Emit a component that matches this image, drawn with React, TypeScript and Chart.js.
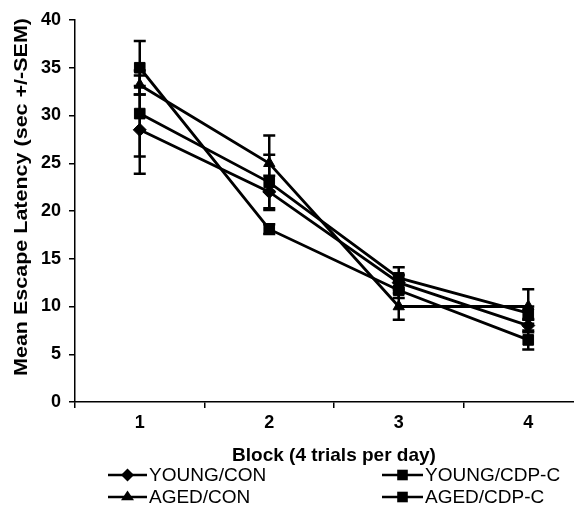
import React, { useEffect, useRef } from 'react';
import { Chart, registerables } from 'chart.js';

Chart.register(...registerables);

const categories = ['1', '2', '3', '4'];
const seriesNames = ['YOUNG/CON', 'YOUNG/CDP-C', 'AGED/CON', 'AGED/CDP-C'];
const youngCon = [28.5, 22.0, 12.5, 8.0];
const youngCdp = [30.2, 23.0, 13.0, 9.3];
const agedCon = [33.2, 25.0, 10.0, 10.0];
const agedCdp = [35.0, 18.1, 11.7, 6.5];
const youngConSem = [4.6, 1.7, 0.8, 0.7];
const youngCdpSem = [4.5, 2.9, 1.1, 0.7];
const agedConSem = [1.0, 2.9, 1.4, 1.8];
const agedCdpSem = [2.8, 0.5, 0.8, 1.0];
const pointStyles = ['rectRot', 'rect', 'triangle', 'rect'];
const yMin = 0;
const yMax = 40;
const yStep = 5;
const xTitle = 'Block (4 trials per day)';
const yTitle = 'Mean Escape Latency (sec +/-SEM)';

const FONT = "'Liberation Sans', Arial, sans-serif";

function drawMarker(ctx: CanvasRenderingContext2D, style: string, x: number, y: number, r: number) {
  ctx.beginPath();
  if (style === 'rect') {
    const s = r * Math.SQRT1_2;
    ctx.rect(x - s, y - s, 2 * s, 2 * s);
  } else if (style === 'rectRot') {
    ctx.moveTo(x, y - r);
    ctx.lineTo(x + r, y);
    ctx.lineTo(x, y + r);
    ctx.lineTo(x - r, y);
    ctx.closePath();
  } else {
    const h = r * 1.5;
    ctx.moveTo(x, y - r);
    ctx.lineTo(x + r, y + h - r);
    ctx.lineTo(x - r, y + h - r);
    ctx.closePath();
  }
  ctx.fill();
}

const errorBarPlugin = {
  id: 'errorBars',
  afterDatasetsDraw(chart: any) {
    const { ctx } = chart;
    const x = chart.scales.x;
    const y = chart.scales.y;
    ctx.save();
    ctx.strokeStyle = '#000';
    ctx.lineWidth = 2.5;
    chart.data.datasets.forEach((ds: any) => {
      ds.data.forEach((v: number, i: number) => {
        const e = ds.sem[i];
        const px = x.getPixelForValue(i);
        const top = y.getPixelForValue(v + e);
        const bot = y.getPixelForValue(v - e);
        ctx.beginPath();
        ctx.moveTo(px, top);
        ctx.lineTo(px, bot);
        ctx.moveTo(px - 6, top);
        ctx.lineTo(px + 6, top);
        ctx.moveTo(px - 6, bot);
        ctx.lineTo(px + 6, bot);
        ctx.stroke();
      });
    });
    ctx.restore();
  },
};

const customTextPlugin = {
  id: 'customText',
  afterDraw(chart: any) {
    const { ctx } = chart;
    ctx.save();
    ctx.fillStyle = '#000';
    ctx.font = `bold 19px ${FONT}`;
    ctx.textAlign = 'center';
    ctx.textBaseline = 'middle';
    const w = ctx.measureText(yTitle).width;
    const target = 358;
    ctx.translate(14, 189);
    ctx.rotate(-Math.PI / 2);
    ctx.scale(target / w, 1);
    ctx.fillText(yTitle, 0, 0);
    ctx.restore();

    ctx.save();
    ctx.fillStyle = '#000';
    ctx.strokeStyle = '#000';
    ctx.lineWidth = 2.5;
    ctx.font = `19px ${FONT}`;
    ctx.textBaseline = 'middle';
    ctx.textAlign = 'left';
    const cols = [
      { x1: 100, x2: 139, t: 141 },
      { x1: 374, x2: 415, t: 417 },
    ];
    const rows = [467, 489];
    chart.data.datasets.forEach((ds: any, i: number) => {
      const c = cols[i % 2];
      const r = rows[Math.floor(i / 2)];
      ctx.beginPath();
      ctx.moveTo(c.x1, r);
      ctx.lineTo(c.x2, r);
      ctx.stroke();
      drawMarker(ctx, ds.pointStyle, (c.x1 + c.x2) / 2, r, ds.pointStyle === 'rect' ? 7.5 : 6.5);
      ctx.fillText(ds.label, c.t, r + 1);
    });
    ctx.restore();
  },
};

export default function App() {
  const ref = useRef<HTMLCanvasElement>(null);
  useEffect(() => {
    if (!ref.current) return;
    const values = [youngCon, youngCdp, agedCon, agedCdp];
    const sems = [youngConSem, youngCdpSem, agedConSem, agedCdpSem];
    const chart = new Chart(ref.current, {
      type: 'line',
      data: {
        labels: categories,
        datasets: values.map((d, i) => ({
          label: seriesNames[i],
          data: d,
          sem: sems[i],
          borderColor: '#000',
          backgroundColor: '#000',
          borderWidth: 2.8,
          pointStyle: pointStyles[i],
          pointRadius: pointStyles[i] === 'rect' ? 7.5 : 6.5,
          pointBackgroundColor: '#000',
          pointBorderColor: '#000',
          pointBorderWidth: 1,
          tension: 0,
        })) as any,
      },
      options: {
        animation: false,
        responsive: false,
        layout: { padding: { left: 0, right: 15, top: 12, bottom: 0 } },
        plugins: { legend: { display: false }, tooltip: { enabled: false } },
        scales: {
          x: {
            type: 'category',
            offset: true,
            grid: { display: true, drawOnChartArea: false, drawTicks: true, tickLength: 6, color: '#000', offset: true, lineWidth: 1.5 },
            border: { display: true, color: '#000', width: 1.5 },
            ticks: { color: '#000', font: { family: FONT, size: 18, weight: 'bold' }, padding: 4 },
            title: { display: true, text: xTitle, color: '#000', font: { family: FONT, size: 19, weight: 'bold' }, padding: { top: 0, bottom: 46 } },
            afterFit: (s: any) => { s.height = 111; s.paddingLeft = 0; s.paddingRight = 0; },
          },
          y: {
            min: yMin,
            max: yMax,
            ticks: { stepSize: yStep, color: '#000', font: { family: FONT, size: 18, weight: 'bold' }, padding: 8 },
            grid: { display: true, drawOnChartArea: false, drawTicks: true, tickLength: 6, color: '#000', lineWidth: 1.5 },
            border: { display: true, color: '#000', width: 1.5 },
            afterFit: (s: any) => { s.width = 67; s.paddingTop = 0; s.paddingBottom = 0; },
          },
        },
      },
      plugins: [errorBarPlugin, customTextPlugin],
    } as any);
    return () => chart.destroy();
  }, []);
  return (
    <div style={{ width: 574, height: 505, overflow: 'hidden', position: 'relative' }}>
      <canvas ref={ref} width={600} height={505} style={{ display: 'block', width: 600, height: 505 }} />
    </div>
  );
}
